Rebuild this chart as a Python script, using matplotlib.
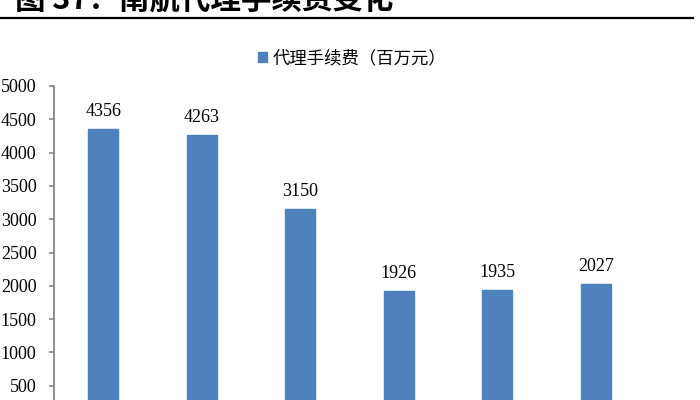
import matplotlib
matplotlib.use("Agg")
import matplotlib.pyplot as plt
from matplotlib.lines import Line2D
from matplotlib.patches import Patch

title = "图 37：南航代理手续费变化"
series_name = "代理手续费（百万元）"
categories = ["2010", "2011", "2012", "2013", "2014", "2015"]
values = [4356, 4263, 3150, 1926, 1935, 2027]
yticks = [500, 1000, 1500, 2000, 2500, 3000, 3500, 4000, 4500, 5000]

W, H = 700, 400
fig = plt.figure(figsize=(7, 4), dpi=100)
fig.patch.set_facecolor("white")

# axes: value 5000 at y=86px, value 0 at y=419px (below the visible area)
left, right = 54, 645
top, bottom = 86, 419
ax = fig.add_axes([left / W, 1 - bottom / H, (right - left) / W, (bottom - top) / H])
x = list(range(len(categories)))
bars = ax.bar(x, values, width=0.305, color="#4F81BD", edgecolor="#4F81BD")
ax.set_xlim(-0.5, len(categories) - 0.5)
ax.set_ylim(0, 5000)
ax.set_xticks(x)
ax.set_xticklabels(categories, fontfamily="Liberation Serif", fontsize=13)
ax.set_yticks(yticks)
ax.set_yticklabels([str(v) for v in yticks], fontfamily="Liberation Serif", fontsize=13)
for s in ["top", "right"]:
    ax.spines[s].set_visible(False)
ax.spines["left"].set_color("#868686")
ax.spines["left"].set_linewidth(1.3)
ax.spines["bottom"].set_color("#868686")
ax.tick_params(axis="y", direction="out", length=3.5, width=1.2, color="#868686", pad=9)
# category labels lie below the cropped bottom edge, as in the reference
ax.tick_params(axis="x", length=0, labelbottom=False)

for xi, v in zip(x, values):
    ax.annotate(str(v), (xi, v), xytext=(0, 6.5), textcoords="offset points",
                ha="center", va="bottom", fontfamily="Liberation Serif", fontsize=13)

handle = Patch(facecolor="#4F81BD", edgecolor="#4F81BD")
fig.legend([handle], [series_name], loc="center", bbox_to_anchor=(352 / W, 1 - 58 / H),
           frameon=False, prop={"family": ["Noto Sans CJK SC", "DejaVu Sans"], "size": 12.5},
           handlelength=0.55, handleheight=0.55, handletextpad=0.3)

# title (partly cut off at top) and rule
fig.text(15 / W, 1 - 15.5 / H, title, ha="left", va="bottom",
         fontfamily=["Noto Sans CJK SC", "DejaVu Sans"], fontsize=22, fontweight="bold")
fig.add_artist(Line2D([0, 693 / W], [1 - 18 / H, 1 - 18 / H], color="black", linewidth=1.6))

fig.savefig("out.png", dpi=100, facecolor="white")
